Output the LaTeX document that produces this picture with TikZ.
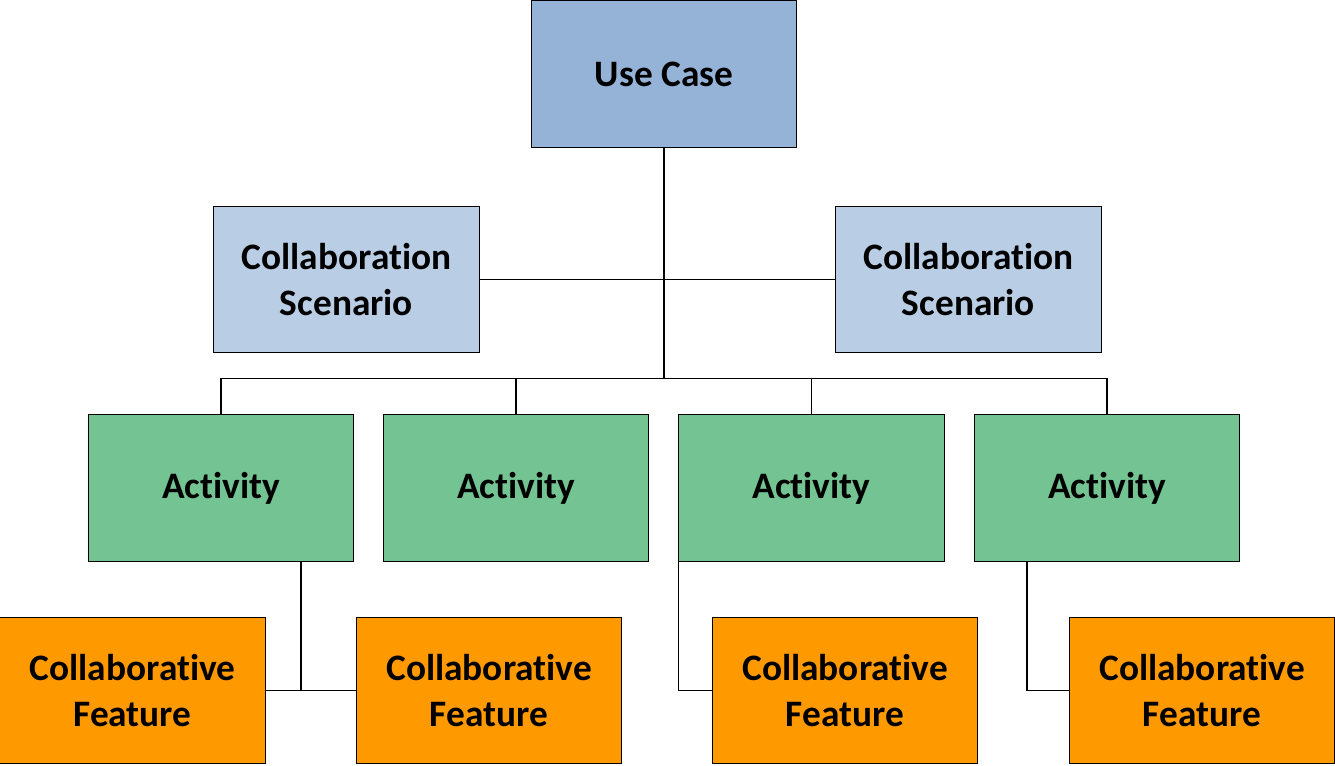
\documentclass[tikz,border=0pt]{standalone}
\usepackage{fontspec}
\setmainfont{Carlito}[Ligatures=NoCommon]
\usepackage{tikz}

\definecolor{usecase}{HTML}{95B3D7}
\definecolor{scenario}{HTML}{B9CDE5}
\definecolor{activity}{HTML}{73C393}
\definecolor{feature}{HTML}{FF9900}

\begin{document}
\begin{tikzpicture}[x=0.75pt,y=-0.75pt,
  box/.style={draw, line width=0.6pt, minimum width=199pt, minimum height=110pt,
    inner sep=0pt, align=center, font=\fontsize{28}{34}\selectfont\bfseries},
  link/.style={line width=1.2pt}]
\useasboundingbox (0,0) rectangle (1335,765);

\node [box, fill=usecase] (uc) at (664,74) {Use Case};
\node [box, fill=scenario] (csl) at (346.5,279.5) {Collaboration\\Scenario};
\node [box, fill=scenario] (csr) at (968.5,279.5) {Collaboration\\Scenario};

\node [box, fill=activity] (a1) at (221,488) {Activity};
\node [box, fill=activity] (a2) at (516,488) {Activity};
\node [box, fill=activity] (a3) at (811.5,488) {Activity};
\node [box, fill=activity] (a4) at (1107,488) {Activity};

\node [box, fill=feature] (f1) at (132.5,690.5) {Collaborative\\Feature};
\node [box, fill=feature] (f2) at (489,690.5) {Collaborative\\Feature};
\node [box, fill=feature] (f3) at (845,690.5) {Collaborative\\Feature};
\node [box, fill=feature] (f4) at (1202,690.5) {Collaborative\\Feature};

\coordinate (bus) at (664,378.5);

% use case down to the activities
\draw [link] (uc.south) -- (bus);
\draw [link] (csl.east) -- (csr.west);
\draw [link] (a1.north) |- (bus) -| (a4.north);
\draw [link] (a2.north) -- (a2.north |- bus);
\draw [link] (a3.north) -- (a3.north |- bus);

% activities to features
\draw [link] (f1.east) -- (f2.west);
\draw [link] ([xshift=60pt]a1.south) -- ([xshift=60pt]a1.south |- f1.east);
\draw [link] (a3.south west) |- (f3.west);
\draw [link] ([xshift=-60pt]a4.south) |- (f4.west);

\end{tikzpicture}
\end{document}
